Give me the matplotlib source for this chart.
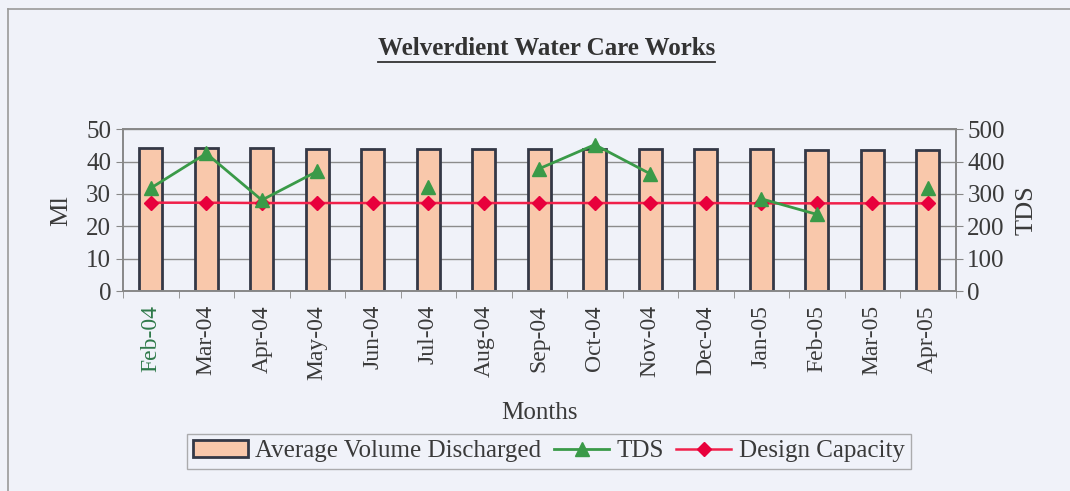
import numpy as np
import matplotlib.pyplot as plt
from matplotlib.lines import Line2D

months = ['Feb-04', 'Mar-04', 'Apr-04', 'May-04', 'Jun-04', 'Jul-04', 'Aug-04',
          'Sep-04', 'Oct-04', 'Nov-04', 'Dec-04', 'Jan-05', 'Feb-05', 'Mar-05', 'Apr-05']
volume = [44.1, 44.1, 44.1, 44.0, 44.0, 44.0, 44.0, 43.9, 43.9, 43.8, 43.8, 43.8, 43.7, 43.7, 43.6]
tds = [318, 425, 281, 370, np.nan, 322, np.nan, 378, 452, 362, np.nan, 285, 237, np.nan, 318]
design = [27.3, 27.3, 27.2, 27.2, 27.2, 27.2, 27.2, 27.2, 27.2, 27.2, 27.2, 27.1, 27.1, 27.1, 27.1]

bg = '#f0f2f9'
txt = '#3a3a3a'
plt.rcParams['font.family'] = ['Liberation Serif', 'DejaVu Serif']

fig = plt.figure(figsize=(10.7, 4.91), dpi=100, facecolor=bg)
# outer frame: only the top and left edges fall inside the page
fig.add_artist(Line2D([0.0075, 1.0], [0.982, 0.982], transform=fig.transFigure, color='#9a9a9a', lw=1.2))
fig.add_artist(Line2D([0.0075, 0.0075], [0.0, 0.982], transform=fig.transFigure, color='#9a9a9a', lw=1.2))

ax = fig.add_axes([0.115, 0.407, 0.778, 0.33])
ax.set_facecolor(bg)
x = np.arange(len(months))

ax.bar(x, volume, width=0.42, color='#f9c8ab', edgecolor='#343846', linewidth=2,
       label='Average Volume Discharged', zorder=2)
ax.plot(x, design, color='#f0204a', lw=1.8, marker='D', ms=7, mfc='#e8003c',
        mec='#e8003c', label='Design Capacity', zorder=4)
ax.set_ylim(0, 50)
ax.set_xlim(-0.5, len(months) - 0.5)
ax.set_yticks(range(0, 51, 10))
ax.yaxis.grid(True, color='#8c8c8c', lw=1)
ax.set_axisbelow(True)
ax.set_xticks(x)
ax.set_xticklabels(months, rotation=90, fontsize=17, color=txt)
ax.get_xticklabels()[0].set_color('#2f7a4a')
ax.set_xticks(np.arange(len(months) + 1) - 0.5, minor=True)
ax.tick_params(axis='x', which='major', length=0, pad=10)
ax.tick_params(axis='x', which='minor', length=5, color='#888888')
ax.tick_params(axis='y', labelsize=18, labelcolor=txt, color='#888888', length=5)
ax.set_ylabel('Ml', fontsize=19, color=txt, labelpad=10)
ax.set_xlabel('Months', fontsize=18, color=txt, labelpad=16)
for s in ax.spines.values():
    s.set_color('#888888')
    s.set_linewidth(1.2)

ax2 = ax.twinx()
ax2.plot(x, tds, color='#3a9a48', lw=2, marker='^', ms=10, mfc='#3a9a48',
         mec='#3a9a48', label='TDS', zorder=3)
ax2.set_ylim(0, 500)
ax2.set_yticks(range(0, 501, 100))
ax2.tick_params(axis='y', labelsize=18, labelcolor=txt, color='#888888', length=5)
ax2.set_ylabel('TDS', fontsize=19, color=txt, labelpad=8)
for s in ax2.spines.values():
    s.set_color('#888888')
    s.set_linewidth(1.2)

fig.text(0.511, 0.902, 'Welverdient Water Care Works', ha='center', va='center',
         fontsize=18, fontweight='bold', color='#333333')
fig.add_artist(Line2D([0.353, 0.668], [0.873, 0.873], transform=fig.transFigure,
                      color='#333333', lw=1.3))

h1, l1 = ax.get_legend_handles_labels()
h2, l2 = ax2.get_legend_handles_labels()
handles = [h1[1], h2[0], h1[0]]
labels = [l1[1], l2[0], l1[0]]
leg = fig.legend(handles, labels, loc='center', bbox_to_anchor=(0.513, 0.081), ncol=3,
                 fontsize=18, frameon=True, fancybox=False, edgecolor='#9a9a9a',
                 facecolor=bg, handlelength=2.2, handletextpad=0.3, columnspacing=0.5,
                 borderpad=0.25)
for t in leg.get_texts():
    t.set_color(txt)

fig.savefig('out.png', dpi=100, facecolor=bg)
